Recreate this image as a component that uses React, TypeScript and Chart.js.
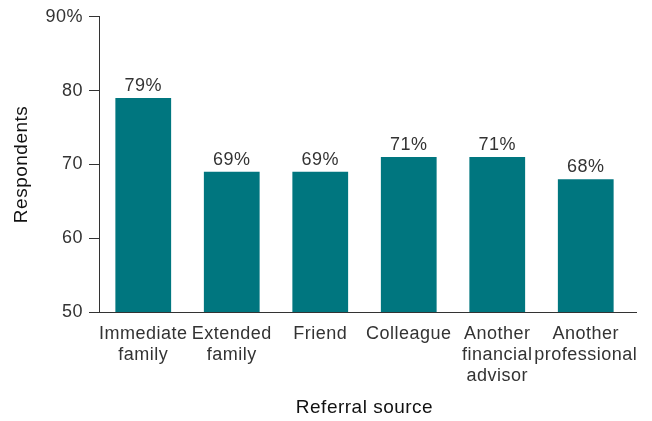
import React, { useEffect, useRef } from "react";
import { Chart, registerables } from "chart.js";

Chart.register(...registerables);

const categories: string[][] = [
  ["Immediate", "family"],
  ["Extended", "family"],
  ["Friend"],
  ["Colleague"],
  ["Another", "financial", "advisor"],
  ["Another", "professional"],
];
const values: number[] = [79, 69, 69, 71, 71, 68];
const yMin = 50;
const yMax = 90;
const yStep = 10;

const FONT = "'Liberation Sans', Arial, sans-serif";
const TEXT = "#333333";
const BAR = "#00767f";
const SPACING = "0.5px";

const spacingPlugin = {
  id: "letterSpacing",
  beforeUpdate(chart: any) {
    chart.ctx.letterSpacing = SPACING;
  },
  beforeDraw(chart: any) {
    chart.ctx.letterSpacing = SPACING;
  },
};

const extrasPlugin = {
  id: "extras",
  afterDatasetsDraw(chart: any) {
    const ctx = chart.ctx;
    const area = chart.chartArea;
    ctx.save();
    ctx.letterSpacing = SPACING;
    ctx.strokeStyle = "#333";
    ctx.lineWidth = 1;
    ctx.beginPath();
    ctx.moveTo(area.left - 10, Math.round(area.bottom) + 0.5);
    ctx.lineTo(area.right + 7, Math.round(area.bottom) + 0.5);
    ctx.stroke();
    const meta = chart.getDatasetMeta(0);
    ctx.fillStyle = TEXT;
    ctx.font = `18px ${FONT}`;
    ctx.textAlign = "center";
    ctx.textBaseline = "alphabetic";
    meta.data.forEach((bar: any, i: number) => {
      ctx.fillText(`${values[i]}%`, bar.x, bar.y - 7);
    });
    ctx.restore();
  },
};

export default function App() {
  const ref = useRef<HTMLCanvasElement>(null);
  useEffect(() => {
    if (!ref.current) return;
    const chart = new Chart(ref.current, {
      type: "bar",
      data: {
        labels: categories,
        datasets: [
          {
            data: values,
            backgroundColor: BAR,
            barPercentage: 0.63,
            categoryPercentage: 1,
          },
        ],
      },
      options: {
        animation: false,
        responsive: true,
        maintainAspectRatio: false,
        layout: { padding: { top: 16, right: 22, left: 0, bottom: 0 } },
        plugins: {
          legend: { display: false },
          tooltip: { enabled: false },
        },
        scales: {
          x: {
            grid: { display: false, drawTicks: false },
            border: { display: false },
            afterFit: (scale: any) => {
              scale.height = 109;
            },
            ticks: {
              color: TEXT,
              font: { family: FONT, size: 18, lineHeight: 1.15 },
              padding: 12,
              maxRotation: 0,
              autoSkip: false,
            },
            title: {
              display: true,
              text: "Referral source",
              color: "#111",
              font: { family: FONT, size: 19 },
              padding: { top: 0, bottom: 2 },
            },
          },
          y: {
            min: yMin,
            max: yMax,
            afterFit: (scale: any) => {
              scale.width = 99;
            },
            grid: {
              drawOnChartArea: false,
              drawTicks: true,
              tickLength: 10,
              color: "#333",
            },
            border: { display: true, color: "#333", width: 1 },
            ticks: {
              stepSize: yStep,
              color: TEXT,
              font: { family: FONT, size: 18 },
              padding: 6,
              callback: (v: any) => (v === yMax ? `${v}%` : `${v}`),
            },
            title: {
              display: true,
              text: "Respondents",
              color: "#111",
              font: { family: FONT, size: 19 },
              padding: { top: 10, bottom: 0 },
            },
          },
        },
      },
      plugins: [spacingPlugin, extrasPlugin],
    });
    return () => chart.destroy();
  }, []);
  return (
    <div style={{ position: "fixed", left: 0, top: 0, width: 652, height: 421, background: "#fff" }}>
      <canvas ref={ref} />
    </div>
  );
}
